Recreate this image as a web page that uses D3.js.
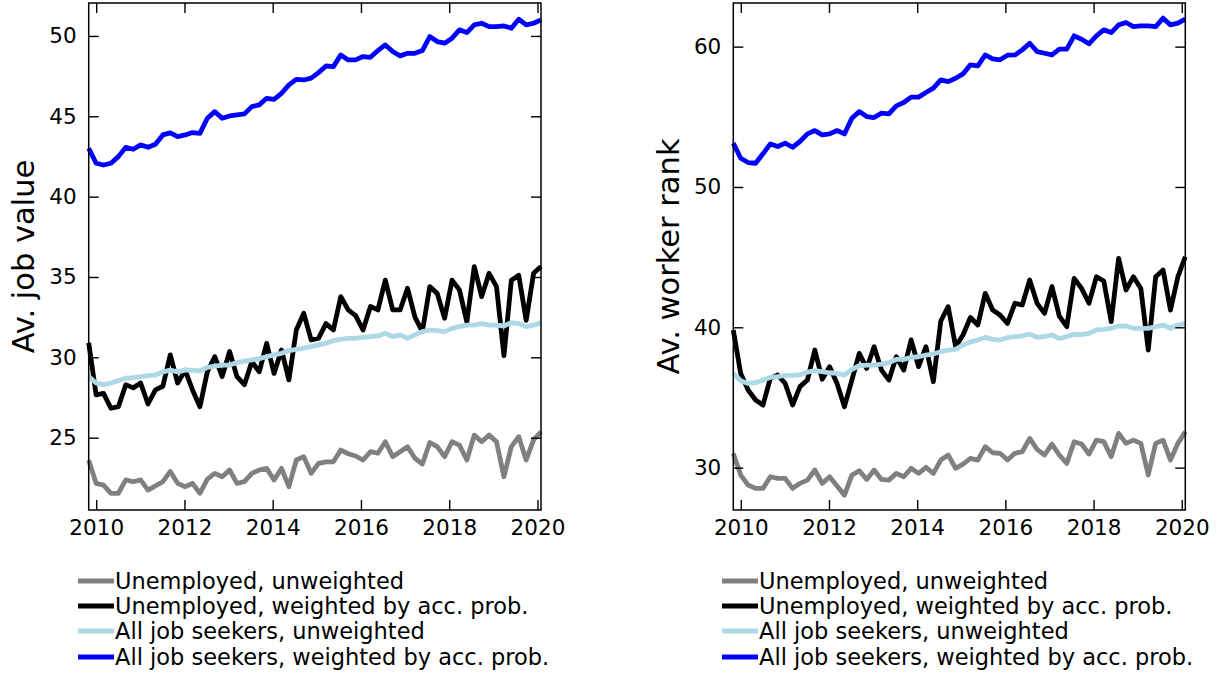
<!DOCTYPE html>
<html><head><meta charset="utf-8">
<script src="https://cdn.jsdelivr.net/npm/d3@7"></script>
<style>body{margin:0;background:#fff}svg{display:block}text{font-family:"DejaVu Sans",sans-serif}</style>
</head><body><svg id="c" width="1223" height="675"></svg>
<script>
const startYear = 2009.83, endYear = 2020.08, nPts = 62;
const xTicks = [2010, 2012, 2014, 2016, 2018, 2020];
const leftYTicks = [25, 30, 35, 40, 45, 50];
const rightYTicks = [30, 40, 50, 60];
const seriesNames = ["Unemployed, unweighted", "Unemployed, weighted by acc. prob.", "All job seekers, unweighted", "All job seekers, weighted by acc. prob."];
const seriesColors = ["#808080", "#000000", "#add8e6", "#0000ff"];

const leftGray = [23.6,22.16,22.05,21.54,21.54,22.37,22.26,22.37,21.74,22.0,22.26,22.9,22.16,21.95,22.16,21.54,22.42,22.78,22.57,22.99,22.16,22.26,22.78,22.99,23.09,22.37,23.09,21.95,23.61,23.82,22.78,23.4,23.5,23.5,24.23,24.0,23.86,23.61,24.13,24.03,24.75,23.82,24.13,24.44,23.72,23.36,24.7,24.44,23.82,24.75,24.54,23.61,25.16,24.75,25.16,24.75,22.57,24.44,25.06,23.61,24.86,25.37];
const leftBlack = [30.9,27.66,27.76,26.83,26.93,28.3,28.1,28.4,27.1,27.97,28.2,30.15,28.4,29.2,27.97,26.93,29.1,30.04,28.8,30.36,28.8,28.3,29.73,29.1,30.87,29.0,30.46,28.6,31.7,32.74,31.08,31.2,32.1,31.7,33.78,32.95,32.6,31.7,33.16,32.95,34.8,32.95,32.95,34.3,32.5,31.6,34.4,33.98,32.43,34.8,34.2,32.2,35.65,33.78,35.23,34.4,30.1,34.8,35.1,32.3,35.23,35.65];
const leftLight = [28.8,28.4,28.3,28.4,28.55,28.7,28.74,28.8,28.86,28.9,29.1,29.2,29.1,29.2,29.2,29.15,29.38,29.46,29.52,29.52,29.67,29.77,29.84,29.92,30.04,30.15,30.25,30.42,30.5,30.58,30.67,30.77,30.87,31.04,31.12,31.18,31.18,31.25,31.29,31.33,31.5,31.29,31.4,31.18,31.4,31.6,31.7,31.66,31.6,31.8,31.91,32.0,32.0,32.1,32.0,32.0,31.95,32.16,32.1,31.91,32.0,32.16];
const leftBlue = [43.01,42.08,41.97,42.08,42.49,43.07,42.95,43.22,43.07,43.26,43.84,43.97,43.74,43.84,43.99,43.94,44.88,45.29,44.88,45.02,45.09,45.15,45.6,45.71,46.12,46.06,46.43,46.95,47.3,47.26,47.37,47.72,48.13,48.09,48.82,48.51,48.51,48.72,48.67,49.09,49.44,49.03,48.76,48.92,48.92,49.09,49.96,49.65,49.55,49.86,50.38,50.21,50.69,50.79,50.58,50.58,50.62,50.48,51.04,50.69,50.79,51.0];

const rightGray = [31.0,29.47,28.76,28.52,28.52,29.35,29.23,29.23,28.52,28.88,29.11,29.83,28.88,29.35,28.69,28.04,29.47,29.78,29.16,29.83,29.16,29.11,29.59,29.35,29.95,29.59,30.02,29.59,30.54,30.9,29.95,30.25,30.66,30.54,31.49,31.06,31.02,30.54,31.02,31.13,32.08,31.3,30.9,31.67,30.9,30.3,31.85,31.68,30.97,31.96,31.85,30.78,32.44,31.73,31.96,31.73,29.47,31.73,31.96,30.54,31.73,32.56];
const rightBlack = [39.8,36.7,35.53,34.82,34.46,36.36,36.6,36.0,34.46,35.77,36.24,38.38,36.3,37.19,36.0,34.34,36.24,38.14,37.07,38.62,36.95,36.24,37.9,36.95,39.1,37.19,38.62,36.12,40.45,41.47,38.62,39.45,40.7,40.16,42.42,41.23,40.87,40.28,41.71,41.59,43.37,41.71,40.99,42.9,40.8,40.04,43.49,42.77,41.71,43.6,43.3,40.4,44.91,42.66,43.6,42.77,38.38,43.6,44.08,41.23,43.6,45.03];
const rightLight = [36.72,36.19,36.0,36.05,36.24,36.43,36.48,36.57,36.57,36.62,36.81,36.91,36.84,36.76,36.72,36.6,37.0,37.26,37.31,37.31,37.38,37.48,37.71,37.71,37.86,37.9,38.02,38.1,38.26,38.38,38.43,38.74,38.95,39.09,39.28,39.14,39.09,39.26,39.33,39.38,39.52,39.28,39.33,39.45,39.2,39.33,39.5,39.47,39.57,39.81,39.85,39.93,40.09,40.09,39.93,39.93,39.93,40.04,40.16,39.93,40.16,40.28];
const rightBlue = [53.12,52.05,51.74,51.69,52.36,53.07,52.88,53.12,52.83,53.24,53.78,54.02,53.71,53.78,54.02,53.78,54.9,55.37,55.02,54.95,55.26,55.21,55.78,56.02,56.4,56.4,56.73,57.04,57.63,57.51,57.75,58.06,58.7,58.63,59.41,59.13,59.06,59.39,59.41,59.77,60.24,59.65,59.53,59.41,59.82,59.82,60.77,60.53,60.2,60.77,61.2,61.0,61.55,61.72,61.43,61.48,61.48,61.43,62.03,61.55,61.67,61.96];

const dates = d3.range(nPts).map(i => startYear + i * (endYear - startYear) / (nPts - 1));

const svg = d3.select("#c");
const FONT_TICK = 21.5, FONT_LEG = 22.5, FONT_LAB = 30.5;

function panel(cfg) {
  const x = d3.scaleLinear().domain([startYear, endYear]).range([cfg.x0, cfg.x1]);
  const y = d3.scaleLinear().domain(cfg.yDomain).range([cfg.y1, cfg.y0]);
  const g = svg.append("g");
  const line = d3.line().x((d, i) => x(dates[i])).y(d => y(d));
  cfg.series.forEach((s, si) => {
    g.append("path").datum(s).attr("d", line).attr("fill", "none")
      .attr("stroke", seriesColors[si]).attr("stroke-width", 4.8)
      .attr("stroke-linejoin", "round").attr("stroke-linecap", "butt");
  });
  const ax = (a) => a.tickSizeOuter(0);
  const gb = g.append("g").attr("transform", `translate(0,${cfg.y1})`)
    .call(ax(d3.axisBottom(x).tickValues(xTicks).tickFormat(d3.format("d")).tickSizeInner(-10).tickPadding(10)));
  const gt = g.append("g").attr("transform", `translate(0,${cfg.y0})`)
    .call(ax(d3.axisTop(x).tickValues(xTicks).tickFormat("").tickSizeInner(-10)));
  const gl = g.append("g").attr("transform", `translate(${cfg.x0},0)`)
    .call(ax(d3.axisLeft(y).tickValues(cfg.yTicks).tickFormat(d3.format("d")).tickSizeInner(-10).tickPadding(12)));
  const gr = g.append("g").attr("transform", `translate(${cfg.x1},0)`)
    .call(ax(d3.axisRight(y).tickValues(cfg.yTicks).tickFormat("").tickSizeInner(-10)));
  [gb, gt, gl, gr].forEach(a => {
    a.select(".domain").remove();
    a.selectAll(".tick line").attr("stroke", "#000").attr("stroke-width", 1.4);
    a.selectAll("text").attr("font-size", FONT_TICK).attr("fill", "#000").attr("font-family", "DejaVu Sans");
  });
  g.append("rect").attr("x", cfg.x0).attr("y", cfg.y0).attr("width", cfg.x1 - cfg.x0).attr("height", cfg.y1 - cfg.y0)
    .attr("fill", "none").attr("stroke", "#000").attr("stroke-width", 1.5);
  const cy = (cfg.y0 + cfg.y1) / 2;
  g.append("text").attr("transform", `translate(${cfg.labX},${cy}) rotate(-90)`)
    .attr("text-anchor", "middle").attr("font-size", FONT_LAB).text(cfg.label);
  const lg = g.append("g");
  seriesNames.forEach((n, i) => {
    const ly = cfg.legY[i];
    lg.append("line").attr("x1", cfg.legX).attr("x2", cfg.legX + 36).attr("y1", ly).attr("y2", ly)
      .attr("stroke", seriesColors[i]).attr("stroke-width", 4.8);
    lg.append("text").attr("x", cfg.legX + 37).attr("y", ly).attr("dy", "0.35em")
      .attr("font-size", FONT_LEG).text(n);
  });
}

panel({x0: 88.7, x1: 541, y0: 3, y1: 510, yDomain: [20.5, 52.05], yTicks: leftYTicks,
  series: [leftGray, leftBlack, leftLight, leftBlue], label: "Av. job value", labX: 34,
  legX: 78, legY: [581, 606, 631, 657]});
panel({x0: 733.3, x1: 1185.3, y0: 3, y1: 510, yDomain: [26.98, 63.11], yTicks: rightYTicks,
  series: [rightGray, rightBlack, rightLight, rightBlue], label: "Av. worker rank", labX: 679,
  legX: 722, legY: [581, 606, 631, 657]});
</script></body></html>
